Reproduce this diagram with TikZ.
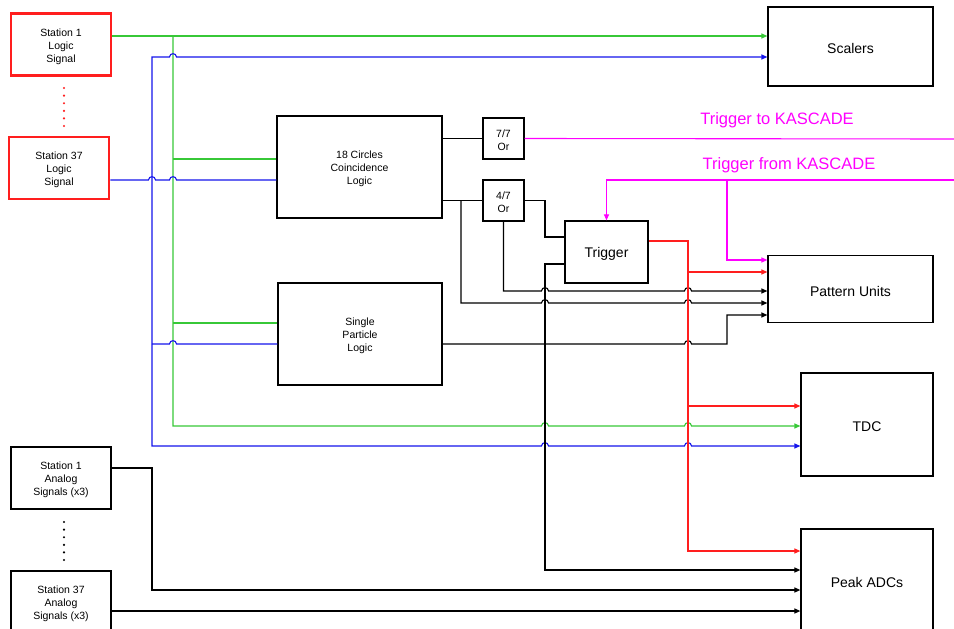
\documentclass[tikz,border=0pt]{standalone}
\usepackage{fontspec}
\setmainfont{Liberation Sans}
\usetikzlibrary{arrows.meta}
\definecolor{sigGreen}{RGB}{55,200,55}
\definecolor{sigBlue}{RGB}{20,20,235}
\definecolor{sigRed}{RGB}{255,30,30}
\definecolor{sigMag}{RGB}{255,0,255}
\tikzset {
  >={Triangle[length=6pt,width=5pt]},
  every node/.style={font=\fontsize{10.5}{13}\selectfont},
  box/.style={draw,line width=1.2pt,inner sep=0pt},
  stationbox/.style={box,line width=2.6pt,minimum width=100pt,minimum height=62pt},
  txt/.style={label={[align=center,yshift=-2pt]center:#1}},
  bigtxt/.style={label={[yshift=-2pt,font=\fontsize{14}{16}\selectfont]center:#1}},
  wire/.style={line width=1.1pt},
}
% small bump where one wire jumps over another
\newcommand\hop[2]{-- (#1-3.5,#2) .. controls (#1-3.5,#2-4.4) and (#1+3.5,#2-4.4) .. (#1+3.5,#2)}

\begin{document}
\begin{tikzpicture}[x=1pt,y=-1pt]
  \useasboundingbox (0,0) rectangle (954,629);

  % stations
  \node[stationbox,draw=sigRed,txt={Station 1\\Logic\\Signal}] (st1L) at (61,44.5) {};
  \node[stationbox,draw=sigRed,txt={Station 37\\Logic\\Signal}] (st37L) at (59,168) {};
  \node[stationbox,txt={Station 1\\Analog\\Signals (x3)}] (st1A) at (61,478) {};
  \node[stationbox,txt={Station 37\\Analog\\Signals (x3)}] (st37A) at (61,602) {};
  \foreach \y in {0,...,5} {
    \fill[sigRed] (64,88+7.6*\y) circle[radius=1.2];
    \fill (64,522+7.6*\y) circle[radius=1.2];
  }

  % logic
  \node[box,minimum width=165pt,minimum height=102pt,txt={18 Circles\\Coincidence\\Logic}] (circ) at (359.5,167) {};
  \node[box,minimum width=164pt,minimum height=102pt,txt={Single\\Particle\\Logic}] (spl) at (360,334) {};
  \node[box,minimum width=41pt,minimum height=41pt,txt={7/7\\Or}] (or77) at (503.5,138.5) {};
  \node[box,minimum width=41pt,minimum height=41pt,txt={4/7\\Or}] (or47) at (503.5,200.5) {};
  \node[box,minimum width=83pt,minimum height=62pt,bigtxt=Trigger] (trig) at (606.5,252) {};

  % outputs
  \node[box,minimum width=165pt,minimum height=79pt,bigtxt=Scalers] (scal) at (850.5,46.5) {};
  \node[box,minimum width=165pt,minimum height=67pt,bigtxt={Pattern Units}] (patt) at (850.5,289) {};
  \node[box,minimum width=132pt,minimum height=103pt,bigtxt=TDC] (tdc) at (867,424.5) {};
  \node[box,minimum width=132pt,minimum height=103pt,bigtxt={Peak ADCs}] (adc) at (867,580.5) {};

  \coordinate (toK) at (954,139);
  \coordinate (fromK) at (954,180);
  \node[sigMag,font=\fontsize{16.5}{18}\selectfont] (toKlbl) at (777,120) {Trigger to KASCADE};
  \node[sigMag,font=\fontsize{16.5}{18}\selectfont] (fromKlbl) at (789,165) {Trigger from KASCADE};

  % green bus
  \draw[wire,sigGreen,->] (st1L.east |- 0,36) -- (scal.west |- 0,36);
  \draw[wire,sigGreen,->] (173,36) -- (173,426) \hop{545}{426} \hop{688}{426} -- (tdc.west |- 0,426);
  \draw[wire,sigGreen] (173,159) -- (circ.west |- 0,159);
  \draw[wire,sigGreen] (173,323) -- (spl.west |- 0,323);

  % blue bus
  \draw[wire,sigBlue] (st37L.east |- 0,180) \hop{152}{180} \hop{173}{180} -- (circ.west |- 0,180);
  \draw[wire,sigBlue,->] (152,344) -- (152,57) \hop{173}{57} -- (scal.west |- 0,57);
  \draw[wire,sigBlue,->] (152,344) -- (152,446) \hop{545}{446} \hop{688}{446} -- (tdc.west |- 0,446);
  \draw[wire,sigBlue] (152,344) \hop{173}{344} -- (spl.west |- 0,344);

  % black logic wires
  \draw[wire] (circ.east |- or77.west) -- (or77.west);
  \draw[wire] (circ.east |- or47.west) -- (or47.west);
  \draw[wire,->] (461,200.5) -- (461,303) \hop{545}{303} \hop{688}{303} -- (patt.west |- 0,303);
  \draw[wire,->] (or47.south) -- (503.5,291) \hop{545}{291} \hop{688}{291} -- (patt.west |- 0,291);
  \draw[wire] (or47.east) -- (545,200.5) -- (545,237) -- (trig.west |- 0,237);
  \draw[wire,->] (trig.west |- 0,264) -- (545,264) -- (545,570) -- (adc.west |- 0,570);
  \draw[wire,->] (spl.east |- 0,344) \hop{688}{344} -- (727,344) -- (727,315) -- (patt.west |- 0,315);
  \draw[wire,->] (st1A.east |- 0,468) -- (152,468) -- (152,590) -- (adc.west |- 0,590);
  \draw[wire,->] (st37A.east |- 0,611) -- (adc.west |- 0,611);

  % KASCADE
  \draw[wire,sigMag] (or77.east) -- (toK);
  \draw[wire,sigMag,->] (fromK) -- (trig.north |- fromK) -- (trig.north);
  \draw[wire,sigMag,->] (727,180) -- (727,260) -- (patt.west |- 0,260);

  % trigger out
  \draw[wire,sigRed,->] (trig.east |- 0,241) -- (688,241) -- (688,551) -- (adc.west |- 0,551);
  \draw[wire,sigRed,->] (688,272) -- (patt.west |- 0,272);
  \draw[wire,sigRed,->] (688,406) -- (tdc.west |- 0,406);
\end{tikzpicture}
\end{document}
